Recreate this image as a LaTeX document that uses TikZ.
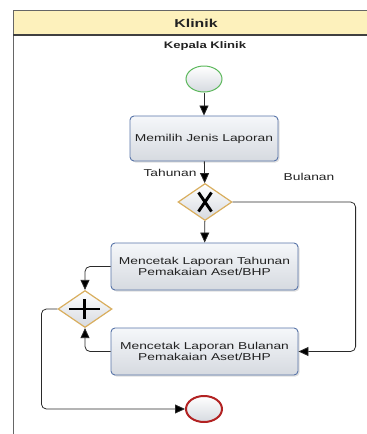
\documentclass[tikz,border=0pt]{standalone}
\usepackage{fontspec}
\setmainfont[FakeStretch=1.38]{Liberation Sans}
\usetikzlibrary{shapes.geometric,arrows.meta,shadows}
\definecolor{hdrfill}{HTML}{FDF1BC}
\definecolor{boxline}{HTML}{5874A8}
\definecolor{boxtop}{HTML}{F5F7FA}
\definecolor{boxbot}{HTML}{D6DAE0}
\definecolor{gwline}{HTML}{D9AE5E}
\definecolor{startline}{HTML}{5CB85C}
\definecolor{endline}{HTML}{B22222}
\definecolor{txt}{HTML}{222222}
\definecolor{conn}{HTML}{2A2A2A}
\begin{document}
\begin{tikzpicture}[x=1pt,y=-1pt,
  every node/.style={text=txt},
  task/.style={draw=boxline,line width=0.9pt,rounded corners=4pt,
    top color=boxtop,bottom color=boxbot,minimum width=148pt,minimum height=45pt,
    align=center,font=\fontsize{10}{11.5}\selectfont,inner sep=0pt,
    drop shadow={opacity=0.25,shadow xshift=1.5pt,shadow yshift=-1.5pt}},
  gw/.style={diamond,draw=gwline,line width=1.2pt,top color=white,bottom color=boxbot,
    inner sep=0pt,minimum width=54pt,minimum height=37pt},
  evt/.style={ellipse,inner sep=0pt,minimum width=36pt,minimum height=26pt,
    top color=white,bottom color=boxbot},
  lbl/.style={font=\fontsize{10}{11.5}\selectfont,inner sep=0pt},
  flow/.style={draw=conn,line width=0.8pt,rounded corners=5pt,
    -{Triangle[length=10pt,width=9pt,fill=black]}},
  gwmark/.style={line width=2.9pt,black}
]
\useasboundingbox (0,0) rectangle (367,434);
% lane
\fill[hdrfill] (13,10) rectangle (367,35);
\draw[gray!80!black,line width=1pt] (13,434) -- (13,10) -- (367,10);
\draw[black!75,line width=1.1pt] (13,35) -- (367,35);
\node[font=\bfseries\fontsize{11.5}{13}\selectfont,inner sep=0pt] (lane) at (196,23) {Klinik};
\node[font=\bfseries\fontsize{9.5}{11}\selectfont,inner sep=0pt] (role) at (205,46) {Kepala Klinik};
% nodes
\node[evt,draw=startline,line width=1pt] (start) at (204,79) {};
\node[task,minimum width=148pt] (t1) at (204,138.5) {Memilih Jenis Laporan};
\node[gw] (gx) at (205,202) {};
\draw[gwmark] (198.5,192.5) -- (211.5,211.5) (211.5,192.5) -- (198.5,211.5);
\node[task,minimum width=187pt,minimum height=47pt] (t2) at (204.5,266.5) {Mencetak Laporan Tahunan\\Pemakaian Aset/BHP};
\node[task,minimum width=187pt,minimum height=47pt] (t3) at (204.5,351.5) {Mencetak Laporan Bulanan\\Pemakaian Aset/BHP};
\node[gw] (gp) at (85,309) {};
\draw[gwmark] (69,309) -- (100,309) (84.5,299) -- (84.5,319);
\node[evt,draw=endline,line width=2pt] (end) at (204,409) {};
% labels
\node[lbl] (lt) at (170,173) {Tahunan};
\node[lbl] (lb) at (309,177) {Bulanan};
% flows
\draw[flow] (start) -- (t1);
\draw[flow] (t1) -- (gx);
\draw[flow] (gx) -- (t2);
\draw[flow] (gx.east) -- ++(123,0) |- (t3.east);
\draw[flow] (t2.west) -| (gp.north);
\draw[flow] (t3.west) -| (gp.south);
\draw[flow] (gp.west) -- ++(-16,0) |- (end.west);
\end{tikzpicture}
\end{document}
